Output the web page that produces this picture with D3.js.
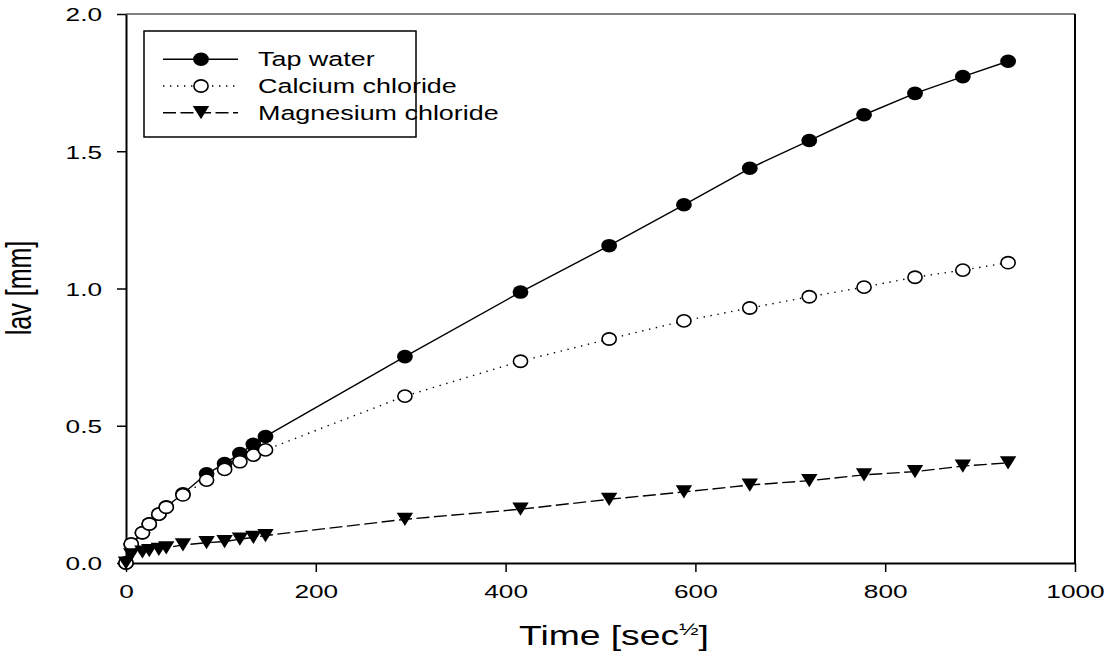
<!DOCTYPE html>
<html>
<head>
<meta charset="utf-8">
<script src="https://cdn.jsdelivr.net/npm/d3@7"></script>
<style>
html,body{margin:0;padding:0;background:#fff;}
svg text{font-family:"Liberation Sans",Arial,sans-serif;fill:#000;}
</style>
</head>
<body>
<svg id="chart" width="1112" height="662"></svg>
<script>
// ---- data ----
const timeSqrt = [0, 5.5, 17.3, 24.5, 34.6, 42.4, 60, 84.9, 103.9, 120, 134.2, 147,
  293.9, 415.7, 509.1, 587.9, 657.3, 720, 777.7, 831.4, 881.8, 929.5];
const tapWater = [0, 0.069, 0.110, 0.142, 0.178, 0.205, 0.252, 0.325, 0.362, 0.399, 0.432, 0.461,
  0.752, 0.987, 1.156, 1.305, 1.438, 1.539, 1.633, 1.711, 1.772, 1.828];
const calciumChloride = [0, 0.069, 0.110, 0.142, 0.178, 0.203, 0.248, 0.302, 0.341, 0.369, 0.393, 0.412,
  0.608, 0.735, 0.816, 0.882, 0.929, 0.970, 1.005, 1.041, 1.067, 1.094];
const magnesiumChloride = [0, 0.030, 0.040, 0.045, 0.050, 0.055, 0.066, 0.074, 0.078, 0.087, 0.093, 0.100,
  0.159, 0.196, 0.232, 0.259, 0.284, 0.300, 0.321, 0.333, 0.353, 0.365];
const seriesNames = ["Tap water", "Calcium chloride", "Magnesium chloride"];
const xTicks = [0, 200, 400, 600, 800, 1000];
const yTicks = [0, 0.5, 1.0, 1.5, 2.0];

// ---- layout ----
const svg = d3.select("#chart");
const L = 126, R = 1075, T = 14, B = 563;
const SX = 1.38; // horizontal text stretch of the reference
const x = d3.scaleLinear().domain([0, 1000]).range([L, R]);
const y = d3.scaleLinear().domain([0, 2]).range([B, T]);

const series = [
  {name: seriesNames[0], values: tapWater, marker: "filled", dash: null},
  {name: seriesNames[1], values: calciumChloride, marker: "open", dash: "1.4,5.6"},
  {name: seriesNames[2], values: magnesiumChloride, marker: "tri", dash: "13,4.5"}
];

function drawMarker(g, type, cx, cy) {
  if (type === "tri") {
    g.append("path")
      .attr("d", `M${cx-8.2},${cy-6.6}L${cx+8.2},${cy-6.6}L${cx},${cy+6.6}Z`)
      .attr("fill", "#000");
  } else {
    g.append("ellipse").attr("cx", cx).attr("cy", cy)
      .attr("rx", type === "open" ? 7.1 : 7.9).attr("ry", type === "open" ? 6.1 : 6.8)
      .attr("fill", type === "open" ? "#fff" : "#000")
      .attr("stroke", "#000").attr("stroke-width", type === "open" ? 1.6 : 0);
  }
}

// frame (top gray, right black)
svg.append("line").attr("x1", L).attr("x2", R).attr("y1", T).attr("y2", T)
  .attr("stroke", "#555").attr("stroke-width", 1.5);
svg.append("line").attr("x1", R).attr("x2", R).attr("y1", T).attr("y2", B)
  .attr("stroke", "#000").attr("stroke-width", 2);

// axes
const gx = svg.append("g").attr("transform", `translate(0,${B})`)
  .call(d3.axisBottom(x).tickValues(xTicks).tickSize(9).tickSizeOuter(0).tickFormat(d3.format("d")));
const gy = svg.append("g").attr("transform", `translate(${L},0)`)
  .call(d3.axisLeft(y).tickValues(yTicks).tickSize(9).tickSizeOuter(0).tickFormat(d3.format(".1f")));
[gx, gy].forEach(g => {
  g.select(".domain").attr("stroke", "#000").attr("stroke-width", 2);
  g.selectAll(".tick line").attr("stroke", "#000").attr("stroke-width", 1.5);
  g.selectAll(".tick text").attr("font-size", 19).attr("font-family", null).attr("fill", "#000");
});
gx.selectAll(".tick text").attr("y", null).attr("dy", null)
  .attr("transform", `translate(0,34.5) scale(${SX},1)`);
gy.selectAll(".tick text").attr("x", null).attr("dy", null)
  .attr("transform", `translate(-24,6.8) scale(${SX},1)`);

// lines + markers
series.forEach(s => {
  const pts = timeSqrt.map((t, i) => [t, s.values[i]]);
  svg.append("path").datum(pts)
    .attr("d", d3.line().x(d => x(d[0])).y(d => y(d[1])))
    .attr("fill", "none").attr("stroke", "#000").attr("stroke-width", 1.4)
    .attr("stroke-dasharray", s.dash);
});
series.forEach(s => {
  const g = svg.append("g");
  timeSqrt.forEach((t, i) => drawMarker(g, s.marker, x(t), y(s.values[i])));
});

// legend
const lg = svg.append("g");
lg.append("rect").attr("x", 144).attr("y", 31).attr("width", 272).attr("height", 106)
  .attr("fill", "#fff").attr("stroke", "#000").attr("stroke-width", 1.5);
series.forEach((s, i) => {
  const cy = 59.3 + i * 26.7;
  lg.append("line").attr("x1", 163).attr("x2", 238).attr("y1", cy).attr("y2", cy)
    .attr("stroke", "#000").attr("stroke-width", 1.4).attr("stroke-dasharray", s.dash);
  drawMarker(lg, s.marker, 201, cy);
  lg.append("text").attr("transform", `translate(258,${cy + 6.9}) scale(${SX},1)`)
    .attr("font-size", 19.5).text(s.name);
});

// axis titles
const xt = svg.append("text").attr("transform", `translate(614,645) scale(${SX},1)`)
  .attr("text-anchor", "middle").attr("font-size", 27);
xt.append("tspan").text("Time [sec");
xt.append("tspan").attr("font-size", 17).attr("dy", -10).text("½");
xt.append("tspan").attr("dy", 10).text("]");

svg.append("text").attr("transform", `translate(31,288) scale(${SX},1) rotate(-90)`)
  .attr("text-anchor", "middle").attr("font-size", 25).text("lav [mm]");
</script>
</body>
</html>
